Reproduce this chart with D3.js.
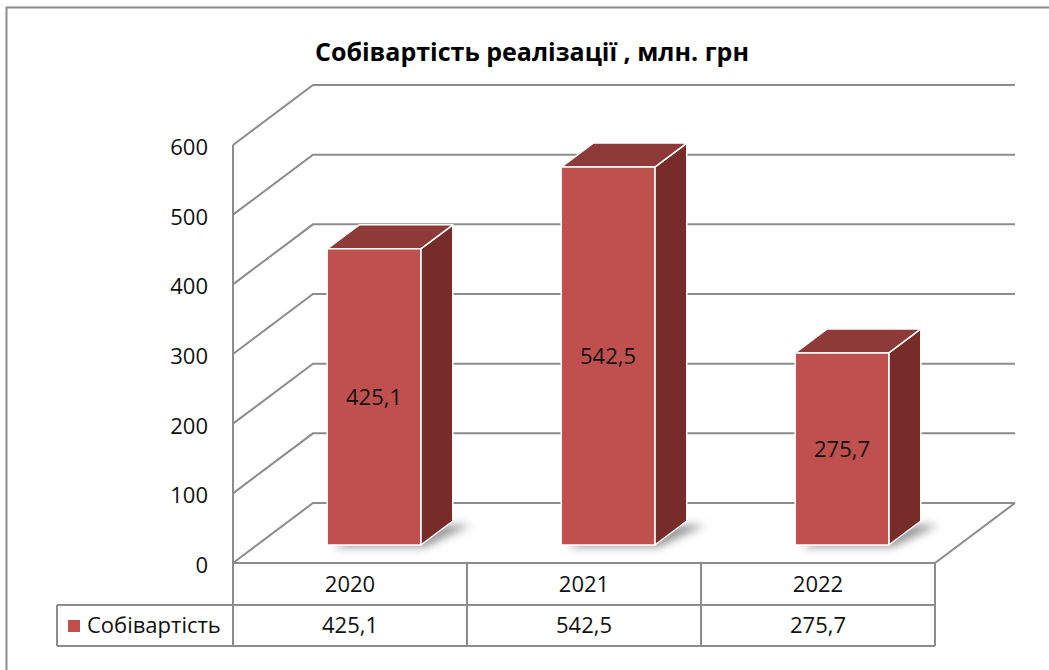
<!DOCTYPE html>
<html>
<head>
<meta charset="utf-8">
<script src="https://cdn.jsdelivr.net/npm/d3@7"></script>
<style>
  body { margin: 0; background: #fff; }
  svg { display: block; font-family: "Open Sans", "Noto Sans", sans-serif; }
</style>
</head>
<body>
<div id="chart"></div>
<script>
const years = ["2020", "2021", "2022"];
const values = [425.1, 542.5, 275.7];
const labels = ["425,1", "542,5", "275,7"];
const yTicks = [0, 100, 200, 300, 400, 500, 600];
const seriesName = "Собівартість";
const title = "Собівартість реалізації , млн. грн";

const width = 1049, height = 670;
const svg = d3.select("#chart").append("svg")
  .attr("width", width).attr("height", height);

// outer chart frame (runs off the right/bottom edge like the screenshot)
svg.append("rect")
  .attr("x", 6.5).attr("y", 7.5)
  .attr("width", 1100).attr("height", 700)
  .attr("fill", "none").attr("stroke", "#8c8c8c").attr("stroke-width", 2);

svg.append("text")
  .attr("x", 532).attr("y", 61)
  .attr("text-anchor", "middle")
  .attr("font-size", 25).attr("font-weight", "bold")
  .attr("fill", "#000")
  .text(title);

// 3d geometry
const DX = 80, DY = -60;   // full depth of the floor
const x0 = 233, x1 = 935;

const y = d3.scaleLinear().domain([0, 600]).range([563, 145]);
const x = d3.scaleBand().domain(years).range([x0, x1])
  .paddingInner(0.6).paddingOuter(0.3);

const gridColor = "#8c8c8c";
const textColor = "#111";
const fs = 22;

// shadow filter
const defs = svg.append("defs");
defs.append("filter").attr("id", "blur")
  .attr("x", "-50%").attr("y", "-50%").attr("width", "200%").attr("height", "200%")
  .append("feGaussianBlur").attr("stdDeviation", 4);

const grid = svg.append("g")
  .attr("fill", "none").attr("stroke", gridColor).attr("stroke-width", 2);

// wall gridlines: front-left -> back-left -> across
yTicks.forEach(t => {
  const yf = y(t);
  grid.append("path")
    .attr("d", `M${x0},${yf}L${x0 + DX},${yf + DY}L${x1 + DX},${yf + DY}`);
});

// floor
grid.append("path")
  .attr("d", `M${x0},${y(0)}L${x1},${y(0)}L${x1 + DX},${y(0) + DY}`);
// left axis, running down through the table
grid.append("path").attr("d", `M${x0},${y(600)}L${x0},646`);

// y tick labels
svg.append("g").selectAll("text")
  .data(yTicks).join("text")
  .attr("x", 208).attr("y", d => y(d) + 2)
  .attr("dy", "0.36em")
  .attr("text-anchor", "end")
  .attr("font-size", fs).attr("fill", textColor)
  .text(d => d);

// bars
const f0 = 0.3, f1 = 0.7;   // depth position of front/back faces
const bars = svg.append("g");

years.forEach((yr, i) => {
  const v = values[i];
  const bx = x(yr), bw = x.bandwidth();
  const fx = bx + DX * f0, fy0 = y(0) + DY * f0, fyt = y(v) + DY * f0;
  const ddx = DX * (f1 - f0), ddy = DY * (f1 - f0);

  // soft shadow on the floor
  bars.append("path")
    .attr("d", `M${fx + 6},${fy0 + 2}L${fx + bw + 4},${fy0 + 2}L${fx + bw + ddx + 18},${fy0 + ddy + 4}L${fx + ddx + 10},${fy0 + ddy + 4}Z`)
    .attr("fill", "#555").attr("opacity", 0.6)
    .attr("filter", "url(#blur)");

  const g = bars.append("g").attr("stroke", "#fff").attr("stroke-width", 1.5)
    .attr("stroke-linejoin", "round");
  // side
  g.append("path")
    .attr("d", `M${fx + bw},${fyt}L${fx + bw + ddx},${fyt + ddy}L${fx + bw + ddx},${fy0 + ddy}L${fx + bw},${fy0}Z`)
    .attr("fill", "#772c2a");
  // top
  g.append("path")
    .attr("d", `M${fx},${fyt}L${fx + ddx},${fyt + ddy}L${fx + bw + ddx},${fyt + ddy}L${fx + bw},${fyt}Z`)
    .attr("fill", "#8e3a38");
  // front
  g.append("rect")
    .attr("x", fx).attr("y", fyt).attr("width", bw).attr("height", fy0 - fyt)
    .attr("fill", "#c0504d");

  bars.append("text")
    .attr("x", fx + bw / 2).attr("y", (fyt + fy0) / 2)
    .attr("dy", "0.36em").attr("text-anchor", "middle")
    .attr("font-size", fs).attr("fill", textColor)
    .text(labels[i]);
});

// data table
const table = svg.append("g");
const tl = table.append("g").attr("fill", "none").attr("stroke", gridColor).attr("stroke-width", 2);
const rowTop = y(0), rowMid = 605, rowBot = 646;
tl.append("path").attr("d", `M57,${rowMid}L${x1},${rowMid}`);
tl.append("path").attr("d", `M57,${rowBot}L${x1},${rowBot}`);
tl.append("path").attr("d", `M57,${rowMid}L57,${rowBot}`);
const cols = years.map(yr => x(yr) - x.step() * x.paddingOuter());
cols.slice(1).concat([x1]).forEach(cx => {
  tl.append("path").attr("d", `M${cx},${rowTop}L${cx},${rowBot}`);
});

table.selectAll(".yr").data(years).join("text")
  .attr("class", "yr")
  .attr("x", d => x(d) + x.bandwidth() / 2)
  .attr("y", (rowTop + rowMid) / 2).attr("dy", "0.36em")
  .attr("text-anchor", "middle").attr("font-size", fs).attr("fill", textColor)
  .text(d => d);

table.selectAll(".val").data(years).join("text")
  .attr("class", "val")
  .attr("x", d => x(d) + x.bandwidth() / 2)
  .attr("y", (rowMid + rowBot) / 2).attr("dy", "0.36em")
  .attr("text-anchor", "middle").attr("font-size", fs).attr("fill", textColor)
  .text((d, i) => labels[i]);

table.append("rect")
  .attr("x", 68).attr("y", 620).attr("width", 12).attr("height", 12)
  .attr("fill", "#c0504d");
table.append("text")
  .attr("x", 87).attr("y", (rowMid + rowBot) / 2).attr("dy", "0.36em")
  .attr("font-size", fs).attr("fill", textColor)
  .text(seriesName);
</script>
</body>
</html>
